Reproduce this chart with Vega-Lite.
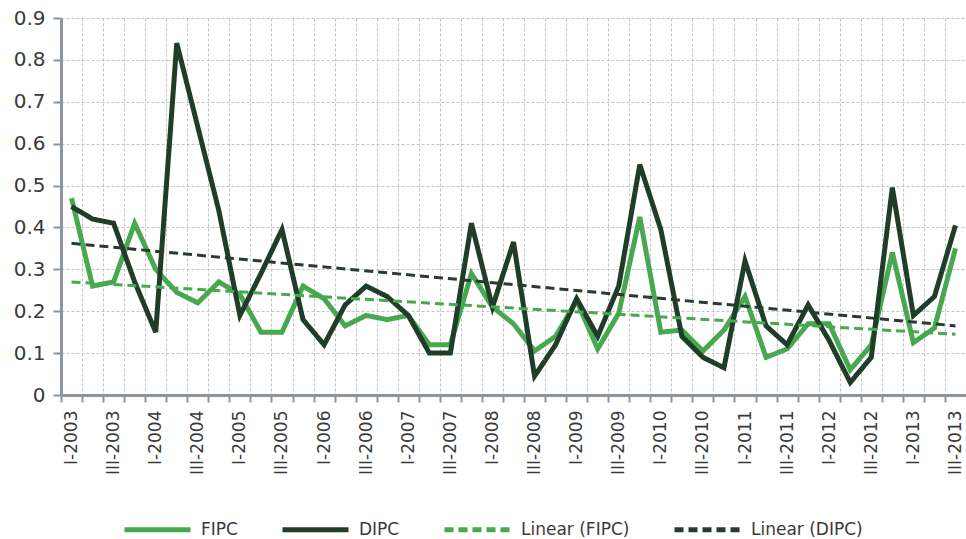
{
  "$schema": "https://vega.github.io/schema/vega-lite/v6.json",
  "width": 905,
  "height": 377,
  "autosize": {"type": "none"},
  "padding": {"left": 61, "top": 18, "right": 0, "bottom": 144},
  "config": {
    "view": {"stroke": null},
    "font": "DejaVu Sans",
    "axis": {"labelFont": "DejaVu Sans", "labelColor": "#3a3a3a"},
    "legend": {"labelFont": "DejaVu Sans"}
  },
  "datasets": {
    "pts": [
      {"quarter": "I-2003", "series": "FIPC", "value": 0.47},
      {"quarter": "II-2003", "series": "FIPC", "value": 0.26},
      {"quarter": "III-2003", "series": "FIPC", "value": 0.27},
      {"quarter": "IV-2003", "series": "FIPC", "value": 0.41},
      {"quarter": "I-2004", "series": "FIPC", "value": 0.30},
      {"quarter": "II-2004", "series": "FIPC", "value": 0.245},
      {"quarter": "III-2004", "series": "FIPC", "value": 0.22},
      {"quarter": "IV-2004", "series": "FIPC", "value": 0.27},
      {"quarter": "I-2005", "series": "FIPC", "value": 0.24},
      {"quarter": "II-2005", "series": "FIPC", "value": 0.15},
      {"quarter": "III-2005", "series": "FIPC", "value": 0.15},
      {"quarter": "IV-2005", "series": "FIPC", "value": 0.26},
      {"quarter": "I-2006", "series": "FIPC", "value": 0.23},
      {"quarter": "II-2006", "series": "FIPC", "value": 0.165},
      {"quarter": "III-2006", "series": "FIPC", "value": 0.19},
      {"quarter": "IV-2006", "series": "FIPC", "value": 0.18},
      {"quarter": "I-2007", "series": "FIPC", "value": 0.19},
      {"quarter": "II-2007", "series": "FIPC", "value": 0.12},
      {"quarter": "III-2007", "series": "FIPC", "value": 0.12},
      {"quarter": "IV-2007", "series": "FIPC", "value": 0.29},
      {"quarter": "I-2008", "series": "FIPC", "value": 0.21},
      {"quarter": "II-2008", "series": "FIPC", "value": 0.17},
      {"quarter": "III-2008", "series": "FIPC", "value": 0.105},
      {"quarter": "IV-2008", "series": "FIPC", "value": 0.14},
      {"quarter": "I-2009", "series": "FIPC", "value": 0.225},
      {"quarter": "II-2009", "series": "FIPC", "value": 0.11},
      {"quarter": "III-2009", "series": "FIPC", "value": 0.195},
      {"quarter": "IV-2009", "series": "FIPC", "value": 0.425},
      {"quarter": "I-2010", "series": "FIPC", "value": 0.15},
      {"quarter": "II-2010", "series": "FIPC", "value": 0.155},
      {"quarter": "III-2010", "series": "FIPC", "value": 0.105},
      {"quarter": "IV-2010", "series": "FIPC", "value": 0.155},
      {"quarter": "I-2011", "series": "FIPC", "value": 0.235},
      {"quarter": "II-2011", "series": "FIPC", "value": 0.09},
      {"quarter": "III-2011", "series": "FIPC", "value": 0.11},
      {"quarter": "IV-2011", "series": "FIPC", "value": 0.17},
      {"quarter": "I-2012", "series": "FIPC", "value": 0.17},
      {"quarter": "II-2012", "series": "FIPC", "value": 0.06},
      {"quarter": "III-2012", "series": "FIPC", "value": 0.12},
      {"quarter": "IV-2012", "series": "FIPC", "value": 0.34},
      {"quarter": "I-2013", "series": "FIPC", "value": 0.125},
      {"quarter": "II-2013", "series": "FIPC", "value": 0.16},
      {"quarter": "III-2013", "series": "FIPC", "value": 0.35},
      {"quarter": "I-2003", "series": "DIPC", "value": 0.45},
      {"quarter": "II-2003", "series": "DIPC", "value": 0.42},
      {"quarter": "III-2003", "series": "DIPC", "value": 0.41},
      {"quarter": "IV-2003", "series": "DIPC", "value": 0.27},
      {"quarter": "I-2004", "series": "DIPC", "value": 0.15},
      {"quarter": "II-2004", "series": "DIPC", "value": 0.84},
      {"quarter": "III-2004", "series": "DIPC", "value": 0.64},
      {"quarter": "IV-2004", "series": "DIPC", "value": 0.44},
      {"quarter": "I-2005", "series": "DIPC", "value": 0.19},
      {"quarter": "II-2005", "series": "DIPC", "value": 0.29},
      {"quarter": "III-2005", "series": "DIPC", "value": 0.395},
      {"quarter": "IV-2005", "series": "DIPC", "value": 0.18},
      {"quarter": "I-2006", "series": "DIPC", "value": 0.12},
      {"quarter": "II-2006", "series": "DIPC", "value": 0.215},
      {"quarter": "III-2006", "series": "DIPC", "value": 0.26},
      {"quarter": "IV-2006", "series": "DIPC", "value": 0.235},
      {"quarter": "I-2007", "series": "DIPC", "value": 0.19},
      {"quarter": "II-2007", "series": "DIPC", "value": 0.10},
      {"quarter": "III-2007", "series": "DIPC", "value": 0.10},
      {"quarter": "IV-2007", "series": "DIPC", "value": 0.41},
      {"quarter": "I-2008", "series": "DIPC", "value": 0.21},
      {"quarter": "II-2008", "series": "DIPC", "value": 0.365},
      {"quarter": "III-2008", "series": "DIPC", "value": 0.045},
      {"quarter": "IV-2008", "series": "DIPC", "value": 0.12},
      {"quarter": "I-2009", "series": "DIPC", "value": 0.23},
      {"quarter": "II-2009", "series": "DIPC", "value": 0.14},
      {"quarter": "III-2009", "series": "DIPC", "value": 0.26},
      {"quarter": "IV-2009", "series": "DIPC", "value": 0.55},
      {"quarter": "I-2010", "series": "DIPC", "value": 0.395},
      {"quarter": "II-2010", "series": "DIPC", "value": 0.14},
      {"quarter": "III-2010", "series": "DIPC", "value": 0.09},
      {"quarter": "IV-2010", "series": "DIPC", "value": 0.065},
      {"quarter": "I-2011", "series": "DIPC", "value": 0.32},
      {"quarter": "II-2011", "series": "DIPC", "value": 0.165},
      {"quarter": "III-2011", "series": "DIPC", "value": 0.12},
      {"quarter": "IV-2011", "series": "DIPC", "value": 0.215},
      {"quarter": "I-2012", "series": "DIPC", "value": 0.13},
      {"quarter": "II-2012", "series": "DIPC", "value": 0.03},
      {"quarter": "III-2012", "series": "DIPC", "value": 0.09},
      {"quarter": "IV-2012", "series": "DIPC", "value": 0.495},
      {"quarter": "I-2013", "series": "DIPC", "value": 0.19},
      {"quarter": "II-2013", "series": "DIPC", "value": 0.235},
      {"quarter": "III-2013", "series": "DIPC", "value": 0.405},
      {"quarter": "I-2003", "series": "Linear (FIPC)", "value": 0.27},
      {"quarter": "III-2013", "series": "Linear (FIPC)", "value": 0.145},
      {"quarter": "I-2003", "series": "Linear (DIPC)", "value": 0.362},
      {"quarter": "III-2013", "series": "Linear (DIPC)", "value": 0.165}
    ]
  },
  "data": {"name": "pts"},
  "encoding": {
    "x": {
      "field": "quarter",
      "type": "ordinal",
      "scale": {
        "type": "point",
        "padding": 0.5,
        "domain": ["I-2003","II-2003","III-2003","IV-2003","I-2004","II-2004","III-2004","IV-2004","I-2005","II-2005","III-2005","IV-2005","I-2006","II-2006","III-2006","IV-2006","I-2007","II-2007","III-2007","IV-2007","I-2008","II-2008","III-2008","IV-2008","I-2009","II-2009","III-2009","IV-2009","I-2010","II-2010","III-2010","IV-2010","I-2011","II-2011","III-2011","IV-2011","I-2012","II-2012","III-2012","IV-2012","I-2013","II-2013","III-2013"]
      },
      "axis": {
        "title": null,
        "tickOffset": -10.52,
        "labelOffset": 10.52,
        "labelAngle": -90,
        "labelOverlap": false,
        "labelExpr": "indexof(datum.value, 'II-') == 0 || indexof(datum.value, 'IV-') == 0 ? '' : datum.value",
        "labelFontSize": 17,
        "labelPadding": 8,
        "tickSize": 7,
        "tickWidth": 2,
        "tickColor": "#8d949b",
        "domainColor": "#8d949b",
        "domainWidth": 3,
        "grid": true,
        "gridColor": "#c4c4c4",
        "gridDash": [3, 2],
        "gridWidth": 1
      }
    },
    "y": {
      "field": "value",
      "type": "quantitative",
      "scale": {"domain": [0, 0.9], "nice": false},
      "axis": {
        "title": null,
        "values": [0, 0.1, 0.2, 0.3, 0.4, 0.5, 0.6, 0.7, 0.8, 0.9],
        "format": ".1~f",
        "labelFontSize": 20,
        "labelPadding": 8,
        "tickSize": 8,
        "tickWidth": 2,
        "tickColor": "#8d949b",
        "domainColor": "#8d949b",
        "domainWidth": 3,
        "grid": true,
        "gridColor": "#c4c4c4",
        "gridDash": [3, 2],
        "gridWidth": 1
      }
    },
    "color": {
      "field": "series",
      "type": "nominal",
      "scale": {
        "domain": ["FIPC", "DIPC", "Linear (FIPC)", "Linear (DIPC)"],
        "range": ["#47a84f", "#1f3d29", "#47a84f", "#2a3a2f"]
      },
      "legend": {
        "title": null,
        "orient": "none",
        "direction": "horizontal",
        "legendX": 61,
        "legendY": 476,
        "padding": 0,
        "labelFontSize": 17,
        "labelColor": "#3a3a3a",
        "labelOffset": 8,
        "columnPadding": 34,
        "symbolType": "stroke",
        "symbolSize": 4356,
        "symbolStrokeWidth": 5
      }
    },
    "strokeDash": {
      "field": "series",
      "type": "nominal",
      "scale": {
        "domain": ["FIPC", "DIPC", "Linear (FIPC)", "Linear (DIPC)"],
        "range": [[1, 0], [1, 0], [9, 5], [9, 5]]
      },
      "legend": {
        "title": null,
        "orient": "none",
        "direction": "horizontal",
        "legendX": 61,
        "legendY": 476,
        "padding": 0,
        "labelFontSize": 17,
        "labelColor": "#3a3a3a",
        "labelOffset": 8,
        "columnPadding": 34,
        "symbolType": "stroke",
        "symbolSize": 4356,
        "symbolStrokeWidth": 5
      }
    }
  },
  "layer": [
    {
      "transform": [{"filter": "datum.series == 'FIPC'"}],
      "mark": {"type": "line", "strokeWidth": 5}
    },
    {
      "transform": [{"filter": "datum.series == 'DIPC'"}],
      "mark": {"type": "line", "strokeWidth": 5}
    },
    {
      "transform": [{"filter": "datum.series == 'Linear (FIPC)' || datum.series == 'Linear (DIPC)'"}],
      "mark": {"type": "line", "strokeWidth": 3}
    }
  ]
}
